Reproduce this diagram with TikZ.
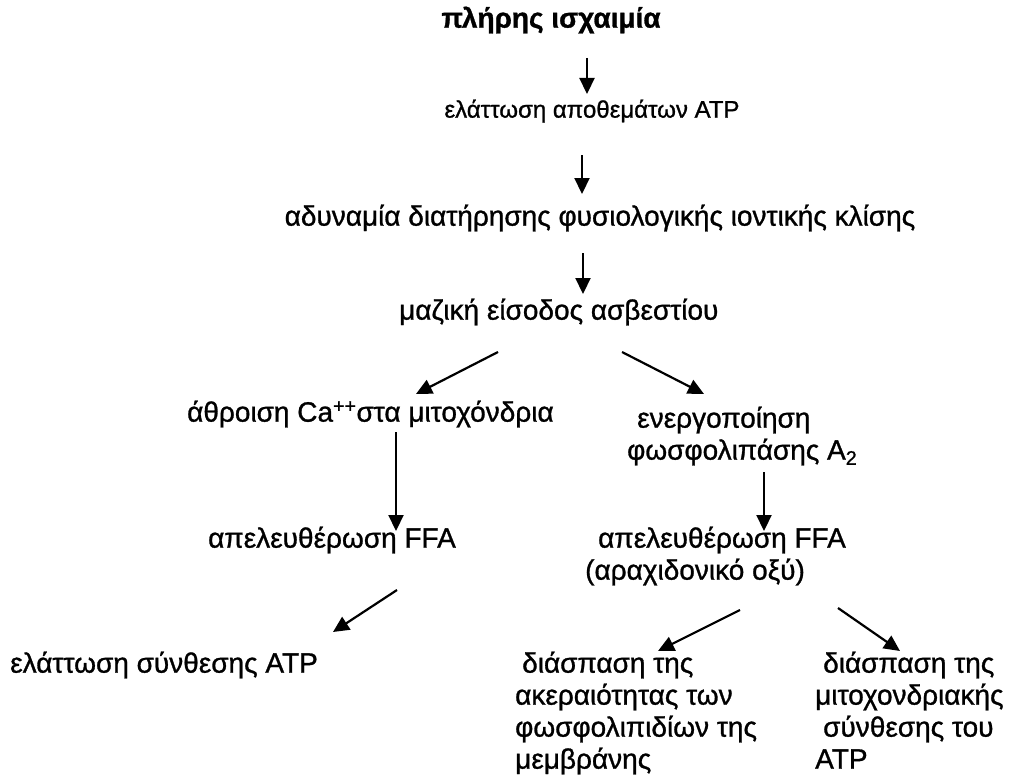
\documentclass[tikz,border=0pt]{standalone}
\usepackage{fontspec}
\setmainfont{Liberation Sans}[FakeBold=1.0]
\usetikzlibrary{arrows.meta}
\newcommand{\stack}[1]{\begin{tabular}[t]{@{}l@{}}#1\end{tabular}}
\begin{document}
\begin{tikzpicture}[x=1pt,y=-1pt,
  txt/.style={inner sep=0pt,font=\fontsize{28}{32}\selectfont},
  small/.style={inner sep=0pt,font=\fontsize{24}{29}\selectfont},
  ttl/.style={inner sep=0pt,font=\fontsize{28}{33}\selectfont\bfseries},
  arr/.style={line width=2.2pt,-{Triangle[length=16pt,width=15pt]}}]
\useasboundingbox (0,0) rectangle (1015,784);
% texts
\node[ttl,anchor=mid] (t1) at (551,25) {πλήρης ισχαιμία};
\node[small,anchor=mid] (t2) at (592,115) {ελάττωση αποθεμάτων ATP};
\node[txt,anchor=mid] (t3) at (600,223) {αδυναμία διατήρησης φυσιολογικής ιοντικής κλίσης};
\node[txt,anchor=mid west] (t4) at (399,317) {μαζική είσοδος ασβεστίου};
\node[txt,anchor=mid west] (t5) at (187,419) {άθροιση Ca\textsuperscript{++}στα μιτοχόνδρια};
\node[txt,anchor=mid west] (t6) at (627,425) {\stack{\hspace{10pt}ενεργοποίηση\\φωσφολιπάσης A\textsubscript{2}}};
\node[txt,anchor=mid west] (t7) at (208,545) {απελευθέρωση FFA};
\node[txt,anchor=mid west] (t8) at (585,545) {\stack{\hspace{13pt}απελευθέρωση FFA\\(αραχιδονικό οξύ)}};
\node[txt,anchor=mid west] (t9) at (10,670) {ελάττωση σύνθεσης ATP};
\node[txt,anchor=mid west] (t10) at (515,670) {\stack{\hspace{7pt}διάσπαση της\\ακεραιότητας των\\φωσφολιπιδίων της\\μεμβράνης}};
\node[txt,anchor=mid west] (t11) at (815,670) {\stack{\hspace{8pt}διάσπαση της\\μιτοχονδριακής\\\hspace{8pt}σύνθεσης του\\ATP}};
% arrow end points
\coordinate (a1s) at (587,58);  \coordinate (a1e) at (587,94);
\coordinate (a2s) at (582,155); \coordinate (a2e) at (582,194);
\coordinate (a3s) at (583,253); \coordinate (a3e) at (583,294);
\coordinate (a4s) at (498,352); \coordinate (a4e) at (416,394);
\coordinate (a5s) at (622,352); \coordinate (a5e) at (704,394);
\coordinate (a6s) at (396,432); \coordinate (a6e) at (396,531);
\coordinate (a7s) at (764,472); \coordinate (a7e) at (764,531);
\coordinate (a8s) at (397,590); \coordinate (a8e) at (333,632);
\coordinate (a9s) at (740,610); \coordinate (a9e) at (658,651);
\coordinate (a10s) at (838,608); \coordinate (a10e) at (900,651);
\foreach \i in {1,...,10} \draw[arr] (a\i s) -- (a\i e);
\end{tikzpicture}
\end{document}
